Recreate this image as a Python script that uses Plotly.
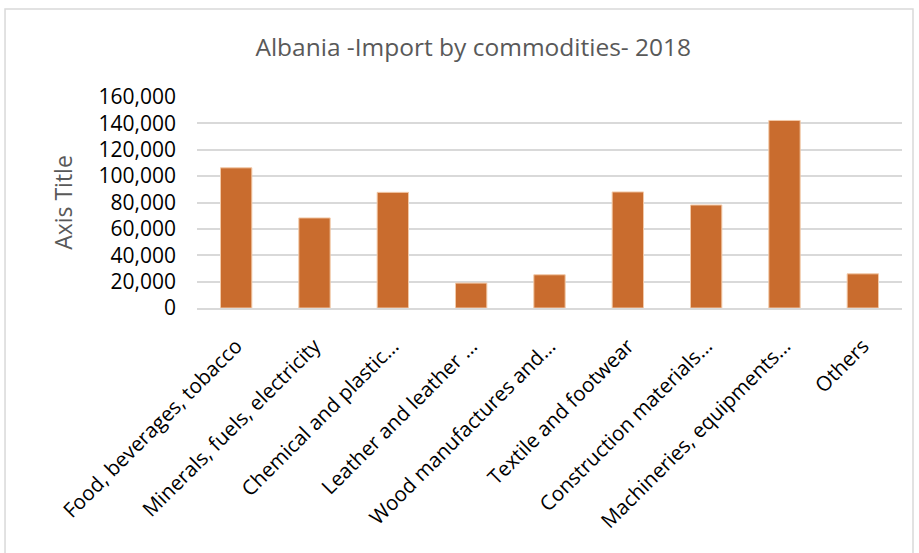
import plotly.graph_objects as go

categories = [
    "Food, beverages, tobacco",
    "Minerals, fuels, electricity",
    "Chemical and plastic…",
    "Leather and leather …",
    "Wood manufactures and…",
    "Textile and footwear",
    "Construction materials…",
    "Machineries, equipments…",
    "Others",
]
values = [106300, 68300, 87700, 18900, 25200, 88000, 78100, 142200, 25900]
y_ticks = [0, 20000, 40000, 60000, 80000, 100000, 120000, 140000, 160000]
y_tick_labels = ["0", "20,000", "40,000", "60,000", "80,000", "100,000", "120,000", "140,000", "160,000"]

fig = go.Figure(
    go.Bar(
        x=categories,
        y=values,
        marker=dict(color="#C96C2E", line=dict(color="#F2C9A8", width=1)),
    )
)

fig.update_layout(
    width=919,
    height=553,
    paper_bgcolor="white",
    plot_bgcolor="white",
    margin=dict(l=197, r=17, t=97, b=245),
    bargap=0.6,
    showlegend=False,
    title=dict(
        text="Albania -Import by commodities- 2018",
        x=0.515,
        xanchor="center",
        y=0.915,
        yanchor="middle",
        font=dict(family="Open Sans", size=24.5, color="#595959"),
    ),
    font=dict(family="Open Sans"),
    shapes=[
        dict(
            type="rect",
            xref="paper",
            yref="paper",
            x0=-0.2723,
            x1=1.0156,
            y0=-1.35,
            y1=1.417,
            line=dict(color="#D9D9D9", width=1.5),
            fillcolor="rgba(0,0,0,0)",
            layer="below",
        )
    ],
)

fig.update_xaxes(
    tickangle=-45,
    tickfont=dict(family="Open Sans", size=20.5, color="#000000"),
    showline=True,
    linecolor="#D9D9D9",
    linewidth=2,
    showgrid=False,
    ticks="outside",
    ticklen=16,
    tickcolor="rgba(0,0,0,0)",
)
fig.update_yaxes(
    range=[0, 160000],
    tickvals=y_ticks,
    ticktext=y_tick_labels,
    tickfont=dict(family="Open Sans", size=21, color="#000000"),
    showgrid=True,
    gridcolor="#D9D9D9",
    gridwidth=1.5,
    zeroline=False,
    ticklabelstandoff=20,
    title=dict(text="Axis Title", font=dict(family="Open Sans", size=23, color="#595959"), standoff=19),
)

fig.write_html("out.html")
